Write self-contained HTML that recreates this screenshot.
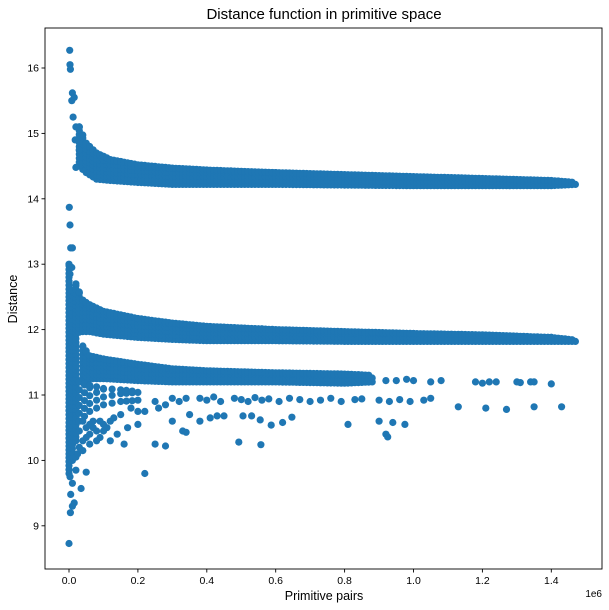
<!DOCTYPE html>
<html><head><meta charset="utf-8"><style>
body{margin:0;background:#fff;}
svg{display:block;font-family:"Liberation Sans","DejaVu Sans",sans-serif;}
</style></head><body>
<svg id="chart" width="609" height="610" viewBox="0 0 609 610" xmlns="http://www.w3.org/2000/svg">
<rect x="0" y="0" width="609" height="610" fill="#fff"/>
<g id="marks"></g>
<g id="axes"></g>
<text x="324" y="19" text-anchor="middle" font-size="15" fill="#000">Distance function in primitive space</text>
<text x="324" y="600" text-anchor="middle" font-size="12.5" fill="#000">Primitive pairs</text>
<text x="0" y="0" transform="translate(17,299) rotate(-90)" text-anchor="middle" font-size="12.5" fill="#000">Distance</text>
<text x="602" y="597" text-anchor="end" font-size="10" fill="#000">1e6</text>
</svg>
<script>
// x values in units of 1e6
const xTicks = [0.0,0.2,0.4,0.6,0.8,1.0,1.2,1.4];
const xTickLabels = ["0.0","0.2","0.4","0.6","0.8","1.0","1.2","1.4"];
const yTicks = [9,10,11,12,13,14,15,16];
const yTickLabels = ["9","10","11","12","13","14","15","16"];

// dense bands: x, upper and lower edge of point cloud
const band1X  = [0.03,0.05,0.08,0.12,0.2,0.3,0.4,0.6,0.8,1.0,1.2,1.4,1.47];
const band1Hi = [15.1,14.85,14.7,14.6,14.52,14.47,14.44,14.4,14.37,14.34,14.31,14.28,14.25];
const band1Lo = [14.5,14.4,14.3,14.28,14.25,14.22,14.22,14.22,14.21,14.2,14.2,14.2,14.22];
const band2X  = [0.02,0.04,0.06,0.1,0.2,0.3,0.4,0.6,0.8,1.0,1.2,1.4,1.47];
const band2Hi = [12.7,12.45,12.38,12.28,12.17,12.1,12.05,12.0,11.97,11.94,11.92,11.88,11.84];
const band2Lo = [11.95,11.97,11.97,11.93,11.88,11.85,11.83,11.83,11.82,11.82,11.82,11.82,11.82];
const band3X  = [0.04,0.06,0.1,0.2,0.3,0.4,0.6,0.8,0.88];
const band3Hi = [11.75,11.6,11.55,11.47,11.4,11.37,11.34,11.32,11.3];
const band3Lo = [11.2,11.25,11.25,11.22,11.2,11.2,11.2,11.18,11.2];
const band4X  = [0.03,0.06,0.1,0.15,0.2];
const band4Hi = [11.2,11.15,11.1,11.08,11.05];
const band4Lo = [10.6,10.75,10.85,10.9,10.92];
const band0X  = [0.0,0.01,0.02];
const band0Hi = [13.0,12.6,12.3];
const band0Lo = [9.8,10.0,10.3];

// sparse individual points
const ptsX = [0.002,0.003,0.004,0.01,0.008,0.015,0.012,0.02,0.018,0.03,0.02,0.001,0.003,0.005,0.01,0.008,0.003,
 0.0,0.004,0.01,0.015,0.005,0.035,0.003,0.01,0.02,0.05,0.22,0.02,0.04,0.06,0.09,0.12,0.14,0.17,0.2,0.25,0.28,0.33,0.34,0.493,0.557,
 0.38,0.41,0.43,0.45,0.505,0.53,0.555,0.587,0.62,0.647,0.81,0.9,0.94,0.975,0.92,0.925,
 0.38,0.40,0.42,0.44,0.48,0.50,0.52,0.54,0.56,0.58,0.61,0.64,0.67,0.70,0.73,0.76,0.79,0.83,0.85,0.90,0.93,0.96,0.99,1.03,1.05,
 0.92,0.95,0.98,1.0,1.05,1.08,1.18,1.2,1.22,1.24,1.3,1.31,1.34,1.35,1.40,
 1.13,1.21,1.27,1.35,1.43,
 0.05,0.07,0.08,0.1,0.12,0.15,0.18,0.2,0.25,0.28,0.3,0.32,0.34,0.16,0.04,0.06,0.22,0.26,0.3,0.35,
 0.03,0.05,0.07,0.09,0.11,0.13,0.03,0.06,0.08,0.1,0.04,0.025];
const ptsY = [16.27,16.05,15.98,15.62,15.5,15.55,15.25,15.1,14.9,14.75,14.48,13.87,13.6,13.25,13.25,12.95,12.85,
 8.73,9.2,9.3,9.35,9.48,9.57,9.75,9.65,9.85,9.82,9.8,10.05,10.15,10.25,10.35,10.3,10.4,10.5,10.55,10.25,10.22,10.45,10.43,10.28,10.24,
 10.6,10.65,10.68,10.68,10.68,10.68,10.62,10.54,10.58,10.66,10.55,10.6,10.58,10.55,10.4,10.36,
 10.95,10.92,10.97,10.9,10.95,10.93,10.9,10.96,10.92,10.94,10.9,10.95,10.93,10.9,10.92,10.95,10.9,10.93,10.94,10.92,10.9,10.93,10.9,10.92,10.95,
 11.22,11.22,11.24,11.22,11.2,11.22,11.2,11.18,11.2,11.2,11.2,11.19,11.2,11.2,11.17,
 10.82,10.8,10.78,10.82,10.82,
 10.5,10.6,10.45,10.55,10.6,10.7,10.8,10.75,10.9,10.85,10.95,10.9,10.95,10.25,10.3,10.4,10.75,10.8,10.6,10.7,
 10.45,10.35,10.5,10.6,10.5,10.65,10.2,10.55,10.3,10.45,10.6,10.1];

const NS='http://www.w3.org/2000/svg';
const L=45,R=602,T=28,B=569;
function sx(v){return 69+v/0.2*68.9;}
function sy(v){return 68+(16-v)*65.4;}
const marks=document.getElementById('marks');
const axes=document.getElementById('axes');
function dot(x,y,name){
  const c=document.createElementNS(NS,'circle');
  c.setAttribute('cx',sx(x).toFixed(1));
  c.setAttribute('cy',sy(y).toFixed(1));
  c.setAttribute('r','3.6');
  c.setAttribute('fill','#1f77b4');
  
  
  marks.appendChild(c);
}
function band(X,Hi,Lo,name,dx,dy){
  for(let i=0;i<X.length-1;i++){
    const steps=Math.max(1,Math.round((X[i+1]-X[i])/dx));
    for(let s=0;s<steps;s++){
      const t=s/steps;
      const x=X[i]+(X[i+1]-X[i])*t;
      const hi=Hi[i]+(Hi[i+1]-Hi[i])*t;
      const lo=Lo[i]+(Lo[i+1]-Lo[i])*t;
      for(let y=lo;y<=hi+1e-6;y+=dy) dot(x,y,name);
      dot(x,hi,name);
    }
  }
  const n=X.length-1;
  for(let y=Lo[n];y<=Hi[n]+1e-6;y+=dy) dot(X[n],y,name);
}
band(band0X,band0Hi,band0Lo,'band-near-zero-point',0.01,0.06);
band(band1X,band1Hi,band1Lo,'band-14-point',0.01,0.06);
band(band2X,band2Hi,band2Lo,'band-12-point',0.01,0.06);
band(band3X,band3Hi,band3Lo,'band-11-3-point',0.01,0.06);
band(band4X,band4Hi,band4Lo,'band-11-point',0.02,0.12);
for(let i=0;i<ptsX.length;i++) dot(ptsX[i],ptsY[i],'scatter-point');

function line(x1,y1,x2,y2,name){
  const l=document.createElementNS(NS,'line');
  l.setAttribute('x1',x1);l.setAttribute('y1',y1);l.setAttribute('x2',x2);l.setAttribute('y2',y2);
  l.setAttribute('stroke','#000');l.setAttribute('stroke-width','0.9');
  
  
  axes.appendChild(l);
}
function txt(x,y,s,anchor,name){
  const t=document.createElementNS(NS,'text');
  t.setAttribute('x',x);t.setAttribute('y',y);t.setAttribute('text-anchor',anchor);
  t.setAttribute('font-size','10.5');t.setAttribute('fill','#000');
  t.textContent=s;
  
  
  axes.appendChild(t);
}
const frame=document.createElementNS(NS,'rect');
frame.setAttribute('x',L);frame.setAttribute('y',T);frame.setAttribute('width',R-L);frame.setAttribute('height',B-T);
frame.setAttribute('fill','none');frame.setAttribute('stroke','#000');frame.setAttribute('stroke-width','0.9');


axes.appendChild(frame);
xTicks.forEach((v,i)=>{const x=sx(v);line(x,B,x,B+3.5,'x-tick');txt(x,B+15,xTickLabels[i],'middle','x-tick-label');});
yTicks.forEach((v,i)=>{const y=sy(v);line(L-3.5,y,L,y,'y-tick');txt(L-6,y+3.5,yTickLabels[i],'end','y-tick-label');});
</script>
</body></html>
